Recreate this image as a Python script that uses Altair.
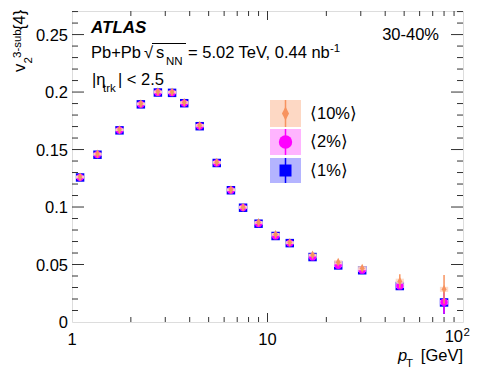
import altair as alt
import pandas as pd

FONT = "Liberation Sans"
W, H = 391, 311
OX, OY = 72, 11  # plot origin on page

# ---------------- data ----------------
pt = [1.1, 1.35, 1.75, 2.25, 2.75, 3.25, 3.75, 4.5, 5.5, 6.5, 7.5, 9, 11, 13, 17, 23, 30.5, 47.5, 80]
v_1pct = [0.1257, 0.1455, 0.1667, 0.1893, 0.1996, 0.1993, 0.1903, 0.1703, 0.1383, 0.1146,
          0.0994, 0.0855, 0.0748, 0.0686, 0.0565, 0.0492, 0.0450, 0.0313, 0.0170]
v_2pct = [0.1258, 0.1456, 0.1668, 0.1894, 0.1997, 0.1994, 0.1904, 0.1704, 0.1384, 0.1147,
          0.0995, 0.0856, 0.0749, 0.0687, 0.0566, 0.0493, 0.0451, 0.0314, 0.0172]
v_10pct = [0.1262, 0.1461, 0.1673, 0.1898, 0.2002, 0.2000, 0.1909, 0.1710, 0.1389, 0.1151,
           0.0999, 0.0866, 0.0762, 0.0691, 0.0582, 0.0520, 0.0468, 0.0355, 0.0284]
stat_1pct = [0.0005] * 15 + [0.001, 0.0012, 0.003, 0.010]
stat_2pct = [0.0005] * 15 + [0.001, 0.0012, 0.003, 0.010]
stat_10pct = [0.0005] * 14 + [0.001, 0.002, 0.0022, 0.006, 0.0125]
sys_1pct = [0.0012] * 15 + [0.0015, 0.0015, 0.0018, 0.002]
sys_2pct = [0.0012] * 15 + [0.0015, 0.0015, 0.0018, 0.002]
sys_10pct = [0.0012] * 15 + [0.0018, 0.0018, 0.0022, 0.0022]

y_major = [0.05, 0.1, 0.15, 0.2, 0.25]
y_minor = [0.01, 0.02, 0.03, 0.04, 0.06, 0.07, 0.08, 0.09, 0.11, 0.12, 0.13, 0.14,
           0.16, 0.17, 0.18, 0.19, 0.21, 0.22, 0.23, 0.24, 0.26, 0.27]
x_major = [10]
x_minor = [2, 3, 4, 5, 6, 7, 8, 9, 20, 30, 40, 50, 60, 70, 80, 90]
y_label_vals = [0, 0.05, 0.1, 0.15, 0.2, 0.25]
y_label_text = ["0", "0.05", "0.1", "0.15", "0.2", "0.25"]
x_label_vals = [1, 10]
x_label_text = ["1", "10"]
x_last_val = [100]
x_last_base = ["10"]
x_last_exp = ["2"]

series = [
    ("⟨1%⟩", v_1pct, stat_1pct, sys_1pct, "#0000ff", "#b4b4ff", "square", 72),
    ("⟨2%⟩", v_2pct, stat_2pct, sys_2pct, "#ff00ff", "#ffb4ff", "circle", 52),
    ("⟨10%⟩", v_10pct, stat_10pct, sys_10pct, "#f7935f", "#fdd8c4", "M0,-1L0.5,0L0,1L-0.5,0Z", 81),
]

xscale = alt.Scale(type="log", domain=[1, 100], nice=False)
yscale = alt.Scale(domain=[0, 0.2705], nice=False, zero=False)

layers = []

# tick labels drawn through the scales
ylab = pd.DataFrame({"t": y_label_vals, "lab": y_label_text})
xlab = pd.DataFrame({"t": x_label_vals, "lab": x_label_text})
xlast = pd.DataFrame({"t": x_last_val, "lab": x_last_base, "exp": x_last_exp})
layers.append(alt.Chart(ylab).mark_text(
    align="right", baseline="middle", font=FONT, fontSize=16.5, color="black", dy=1).encode(
    y=alt.Y("t:Q", scale=yscale, axis=None), x=alt.value(-4), text="lab:N"))
layers.append(alt.Chart(xlab).mark_text(
    align="center", baseline="alphabetic", font=FONT, fontSize=16.5, color="black").encode(
    x=alt.X("t:Q", scale=xscale, axis=None), y=alt.value(345 - OY), text="lab:N"))
layers.append(alt.Chart(xlast).mark_text(
    align="right", baseline="alphabetic", font=FONT, fontSize=16.5, color="black", dx=0).encode(
    x=alt.X("t:Q", scale=xscale, axis=None), y=alt.value(341.5 - OY), text="lab:N"))
layers.append(alt.Chart(xlast).mark_text(
    align="left", baseline="alphabetic", font=FONT, fontSize=11.5, color="black", dx=0.5).encode(
    x=alt.X("t:Q", scale=xscale, axis=None), y=alt.value(335.5 - OY), text="exp:N"))

# ticks (inside, all four sides)
TC = "#333333"
ymaj = pd.DataFrame({"t": y_major})
ymin = pd.DataFrame({"t": y_minor})
xmaj = pd.DataFrame({"t": x_major})
xmin = pd.DataFrame({"t": x_minor})
for df_, length in [(ymaj, 12), (ymin, 6)]:
    layers.append(alt.Chart(df_).mark_rule(color=TC, strokeWidth=1).encode(
        y=alt.Y("t:Q", scale=yscale, axis=None), x=alt.value(0), x2=alt.value(length)))
    layers.append(alt.Chart(df_).mark_rule(color=TC, strokeWidth=1).encode(
        y=alt.Y("t:Q", scale=yscale, axis=None), x=alt.value(W), x2=alt.value(W - length)))
for df_, length in [(xmaj, 9), (xmin, 5)]:
    layers.append(alt.Chart(df_).mark_rule(color=TC, strokeWidth=1).encode(
        x=alt.X("t:Q", scale=xscale, axis=None), y=alt.value(H), y2=alt.value(H - length)))
    layers.append(alt.Chart(df_).mark_rule(color=TC, strokeWidth=1).encode(
        x=alt.X("t:Q", scale=xscale, axis=None), y=alt.value(0), y2=alt.value(length)))

# data
for name, vals, stat, sysv, col, pale, shape, size in series:
    df = pd.DataFrame({"pt": pt, "v": vals, "stat": stat, "sys": sysv})
    base = alt.Chart(df).transform_calculate(
        lo="datum.v - datum.stat", hi="datum.v + datum.stat",
        slo="datum.v - datum.sys", shi="datum.v + datum.sys",
        plo="datum.pt / 1.05", phi="datum.pt * 1.05")
    layers.append(base.mark_rect(color=pale, opacity=0.9).encode(
        x=alt.X("plo:Q", scale=xscale, axis=None), x2="phi:Q",
        y=alt.Y("slo:Q", scale=yscale, axis=None), y2="shi:Q"))
    layers.append(base.mark_rule(color=col, strokeWidth=1.5).encode(
        x=alt.X("pt:Q", scale=xscale, axis=None),
        y=alt.Y("lo:Q", scale=yscale, axis=None), y2="hi:Q"))
    layers.append(base.mark_point(shape=shape, size=size, filled=True, color=col, opacity=1).encode(
        x=alt.X("pt:Q", scale=xscale, axis=None),
        y=alt.Y("v:Q", scale=yscale, axis=None)))

one = alt.Data(values=[{}])


def txt(text, x, y, size=16.5, align="left", baseline="alphabetic", angle=0,
        style="normal", weight="normal"):
    return alt.Chart(one).mark_text(
        text=text, align=align, baseline=baseline, fontSize=size, font=FONT,
        fontStyle=style, fontWeight=weight, angle=angle, color="black"
    ).encode(x=alt.value(x - OX), y=alt.value(y - OY))


def hline(x1, x2, y, color="black", width=1):
    return alt.Chart(one).mark_rule(color=color, strokeWidth=width).encode(
        x=alt.value(x1 - OX), x2=alt.value(x2 - OX), y=alt.value(y - OY))


# annotations
layers += [
    txt("ATLAS", 91, 33.3, size=17, style="italic", weight="bold"),
    txt("Pb+Pb", 91, 57.7),
    txt("√", 144, 57.7),
    hline(152, 186, 43.5),
    txt("s", 156, 57.7),
    txt("NN", 166, 65, size=11.5),
    txt("= 5.02 TeV, 0.44 nb", 188, 57.7),
    txt("-1", 330, 52, size=11.5),
    txt("|η", 92, 85),
    txt("trk", 103, 92, size=11.5),
    txt("| < 2.5", 118, 85),
    txt("30-40%", 439, 40, align="right"),
    # x title
    txt("[GeV]", 463, 360.5, align="right"),
    txt("T", 406, 367, size=11.5),
    txt("p", 398, 360.5, style="italic"),
    # y title (rotated)
    txt("v", 25, 72, angle=270),
    txt("2", 32, 63.5, size=11.5, angle=270),
    txt("3-sub", 21, 58, size=11.5, angle=270),
    txt("{4}", 25, 30, angle=270),
]

# legend
legend_rows = [
    ("⟨10%⟩", 100, 127, "#f7935f", "#fdd8c4", "M0,-1L0.5,0L0,1L-0.5,0Z", 200),
    ("⟨2%⟩", 129, 155, "#ff00ff", "#ffb4ff", "circle", 180),
    ("⟨1%⟩", 158, 183, "#0000ff", "#b4b4ff", "square", 144),
]
for label, y1, y2, col, pale, shape, size in legend_rows:
    yc = (y1 + y2) / 2
    layers.append(alt.Chart(one).mark_rect(color=pale).encode(
        x=alt.value(270 - OX), x2=alt.value(301 - OX),
        y=alt.value(y1 - OY), y2=alt.value(y2 - OY)))
    layers.append(alt.Chart(one).mark_rule(color=col, strokeWidth=1.5).encode(
        x=alt.value(285.5 - OX), y=alt.value(y1 - OY), y2=alt.value(y2 - OY)))
    layers.append(alt.Chart(one).mark_point(shape=shape, size=size, filled=True,
                                            color=col, opacity=1).encode(
        x=alt.value(285.5 - OX), y=alt.value(yc - OY)))
    layers.append(txt(label, 310, yc, baseline="middle"))

chart = alt.layer(*layers).properties(
    width=W, height=H,
    autosize=alt.AutoSizeParams(type="none"),
    padding={"left": 64, "top": 3, "right": 7, "bottom": 48},
).configure_view(stroke="black", strokeWidth=1).configure(background="white")

chart.save("out.html", embed_options={"renderer": "svg", "actions": False})
